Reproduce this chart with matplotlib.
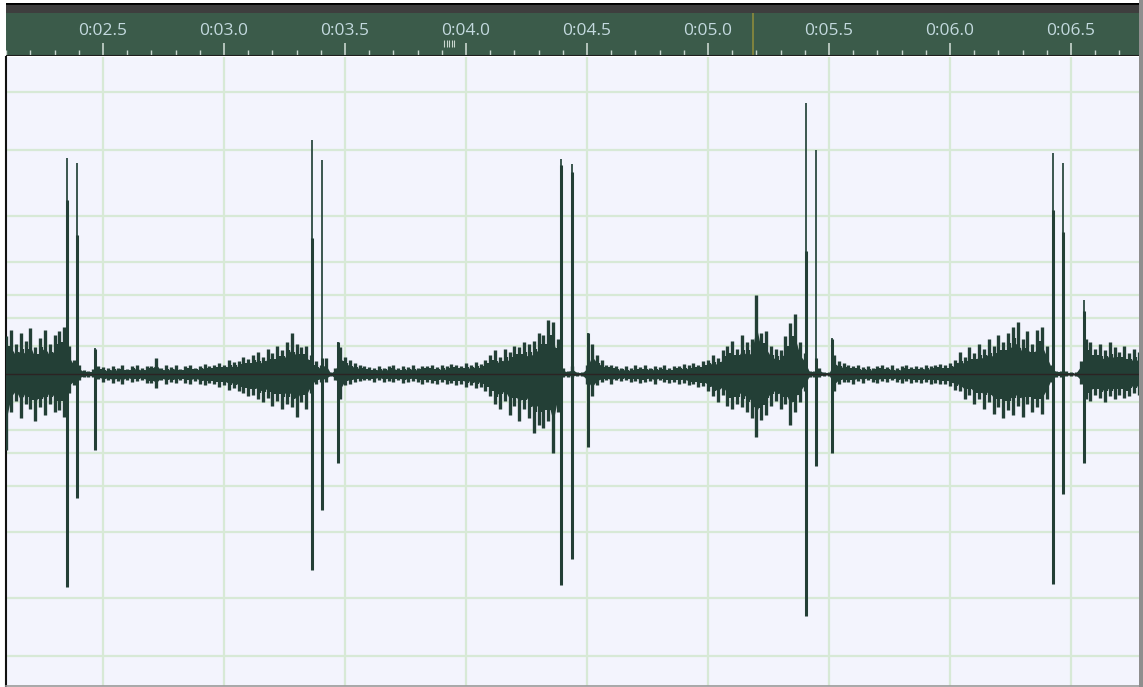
import numpy as np
import matplotlib.pyplot as plt

# waveform envelope, sampled every 0.02 s from 2.10 s (amplitude in thousandths of full scale)
t0, dt = 2.10, 0.02
env_hi = [120, 140, 95, 130, 105, 145, 85, 115, 140, 95, 125, 135, 150, 90, 45, 30, 12, 10, 15, 25,
          22, 18, 25, 20, 28, 15, 24, 30, 19, 26, 26, 50, 18, 27, 21, 30, 17, 25, 28, 20, 26, 32, 24, 30,
          35, 30, 45, 38, 42, 55, 48, 60, 70, 55, 80, 65, 90, 75, 100, 130, 95, 85, 90,
          60, 40, 30, 50, 5, 20, 85, 55, 45, 35, 30, 25,
          22, 18, 26, 20, 24, 30, 19, 25, 22, 28, 20, 26, 24, 30, 22, 27, 25, 32, 28, 24, 35, 30, 38, 33, 45,
          60, 75, 55, 80, 70, 90, 85, 100, 95, 105, 130, 125, 170, 165, 110,
          20, 10, 25, 5, 5, 30, 95, 60, 45, 30, 28, 25,
          20, 24, 18, 27, 22, 30, 20, 25, 23, 28, 19, 26, 24, 32, 27, 35, 30, 40,
          45, 60, 50, 75, 90, 105, 80, 125, 100, 110, 250, 130, 135, 90, 80, 75, 120, 160, 190, 100, 65,
          10, 10, 20, 5, 5, 60, 40, 35,
          30, 24, 28, 22, 26, 20, 25, 30, 22, 27, 19, 24, 28, 21, 26, 23, 30, 25, 28, 32, 27, 35,
          45, 70, 55, 85, 65, 95, 80, 110, 90, 125, 100, 130, 150, 165, 110, 135, 95, 140, 150, 90,
          30, 10, 10, 8, 5, 5, 40, 110, 100, 80, 95, 75, 100, 85, 70, 90, 65, 80, 70]
env_lo = [240, 120, 85, 140, 95, 110, 150, 105, 130, 95, 120, 115, 135, 60, 35, 20, 10, 8, 10, 15,
          25, 20, 28, 22, 30, 18, 26, 22, 20, 28, 28, 45, 20, 30, 24, 28, 20, 27, 30, 22, 30, 34, 28, 32,
          40, 35, 50, 45, 55, 60, 70, 65, 80, 90, 75, 100, 85, 110, 95, 105, 136, 90, 110,
          60, 30, 25, 25, 5, 20, 80, 35, 30, 25, 22, 20,
          20, 24, 18, 26, 22, 25, 20, 28, 24, 22, 26, 30, 25, 28, 30, 26, 32, 28, 35, 30, 40, 36, 45, 42, 55,
          70, 95, 110, 85, 130, 100, 150, 110, 140, 185, 160, 170, 150, 250, 120,
          10, 8, 10, 5, 5, 30, 70, 35, 25, 20, 30, 20,
          22, 19, 26, 21, 28, 24, 22, 30, 20, 26, 28, 24, 30, 27, 35, 32, 40, 38,
          55, 70, 90, 65, 100, 110, 95, 105, 120, 140, 200, 145, 130, 100, 85, 110, 95, 160, 120, 90, 55,
          8, 10, 10, 5, 5, 55, 30, 25,
          26, 30, 22, 27, 20, 25, 28, 22, 26, 20, 24, 27, 22, 29, 25, 28, 24, 30, 27, 33, 30, 38,
          50, 55, 80, 65, 95, 80, 110, 90, 125, 105, 140, 115, 130, 100, 135, 95, 120, 105, 125, 80,
          25, 8, 8, 6, 5, 5, 30, 80, 85, 65, 75, 90, 70, 80, 65, 75, 70, 60, 65]

# clicks (seconds, positive peak, negative peak, top of the thick part)
spike_t = [2.351, 2.393, 2.465, 3.364, 3.405, 3.471, 4.393, 4.438, 4.504,
           5.405, 5.446, 5.512, 6.426, 6.467, 6.554]
spike_hi = [0.684, 0.668, 0.082, 0.740, 0.677, 0.100, 0.680, 0.665, 0.130,
            0.858, 0.710, 0.114, 0.700, 0.668, 0.234]
spike_lo = [0.674, 0.392, 0.240, 0.620, 0.430, 0.280, 0.668, 0.585, 0.230,
            0.766, 0.290, 0.250, 0.665, 0.380, 0.280]
spike_core = [0.55, 0.44, 0.08, 0.43, 0.05, 0.10, 0.66, 0.64, 0.13,
              0.39, 0.05, 0.11, 0.52, 0.45, 0.20]

# ruler
major_ticks = [2.5, 3.0, 3.5, 4.0, 4.5, 5.0, 5.5, 6.0, 6.5]
grid_db = [-1, -3, -6, -9, -12, -15, -21]
playhead = 5.186

W, H = 1143, 687
x_left, x_right = 2.0992, 6.781
wave_col = '#233f36'

fig = plt.figure(figsize=(W / 100, H / 100), dpi=100, facecolor='white')


def px_axes(x0, y0, x1, y1):
    return fig.add_axes([x0 / W, 1 - y1 / H, (x1 - x0) / W, (y1 - y0) / H])


# dark strip above the ruler
top = px_axes(6, 3, 1139, 13)
top.set_facecolor('#3e3e3e')
top.set_xticks([]); top.set_yticks([])
for s in top.spines.values():
    s.set_visible(False)
top.axhline(1, color='black', lw=2)

# time ruler
ruler = px_axes(6, 13, 1139, 56)
ruler.set_facecolor('#3b5b4a')
ruler.set_xlim(x_left, x_right)
ruler.set_ylim(56, 13)
ruler.set_xticks([]); ruler.set_yticks([])
for s in ruler.spines.values():
    s.set_visible(False)
minor = np.round(np.arange(2.1, 6.75, 0.1), 2)
minor = [m for m in minor if not any(abs(m - M) < 1e-6 for M in major_ticks)]
ruler.vlines(minor, 49.5, 55, color='#c9d6cf', lw=1)
ruler.vlines(major_ticks, 43, 55, color='#c9d6cf', lw=1.2)
for t in major_ticks:
    ruler.text(t, 31, f'0:{t:04.1f}', ha='center', va='center', fontsize=12.5,
               family='Open Sans', color='#c3d9de')
ruler.vlines(playhead, 13, 56, color='#8c8a3c', lw=1.2)
mark_x = 3.909 + np.arange(5) * 0.0105
ruler.vlines(mark_x, 40, 47, color='#c9d6cf', lw=0.8)
ruler.axhline(55.5, color='#1e1e1e', lw=1.5)

# waveform panel
ax = px_axes(6, 57, 1139, 686)
ax.set_facecolor('#f3f4fd')
ax.set_xlim(x_left, x_right)
ax.set_ylim(-0.987, 1.003)
ax.set_xticks([]); ax.set_yticks([])
for s in ['top', 'right']:
    ax.spines[s].set_visible(False)
ax.spines['left'].set_color('#111111')
ax.spines['left'].set_linewidth(1.5)
ax.spines['bottom'].set_color('#9a9a9a')
ax.spines['bottom'].set_linewidth(1.2)

levels = [10 ** (d / 20) for d in grid_db]
for lv in levels:
    ax.axhline(lv, color='#d7e9d6', lw=1.6, zorder=1)
    ax.axhline(-lv, color='#d7e9d6', lw=1.6, zorder=1)
for t in major_ticks:
    ax.axvline(t, color='#d7e9d6', lw=1.6, zorder=1)

t = t0 + dt * np.arange(len(env_hi))
hi = np.array(env_hi) / 1000
lo = np.array(env_lo) / 1000
# solid body plus jagged peaks
ax.fill_between(t, -0.6 * lo, 0.6 * hi, color=wave_col, lw=0, zorder=3)
ax.vlines(t, -lo, hi, color=wave_col, lw=2.4, zorder=3)
ax.vlines(t + dt / 2, -0.75 * np.minimum(lo, np.roll(lo, -1)),
          0.75 * np.minimum(hi, np.roll(hi, -1)), color=wave_col, lw=1.6, zorder=3)
ax.vlines(spike_t, -np.array(spike_lo), spike_hi, color='#2c4a41', lw=1.3, zorder=4)
ax.vlines(spike_t, -np.array(spike_lo), spike_core, color=wave_col, lw=2.2, zorder=4)
ax.axhline(0, color='#2b2323', lw=1, zorder=5)

# right-hand frame shadow
edge = px_axes(1139, 0, 1143, 687)
edge.set_facecolor('#8e8e8e')
edge.set_xticks([]); edge.set_yticks([])
for s in edge.spines.values():
    s.set_visible(False)

fig.savefig('out.png', dpi=100, facecolor='white')
